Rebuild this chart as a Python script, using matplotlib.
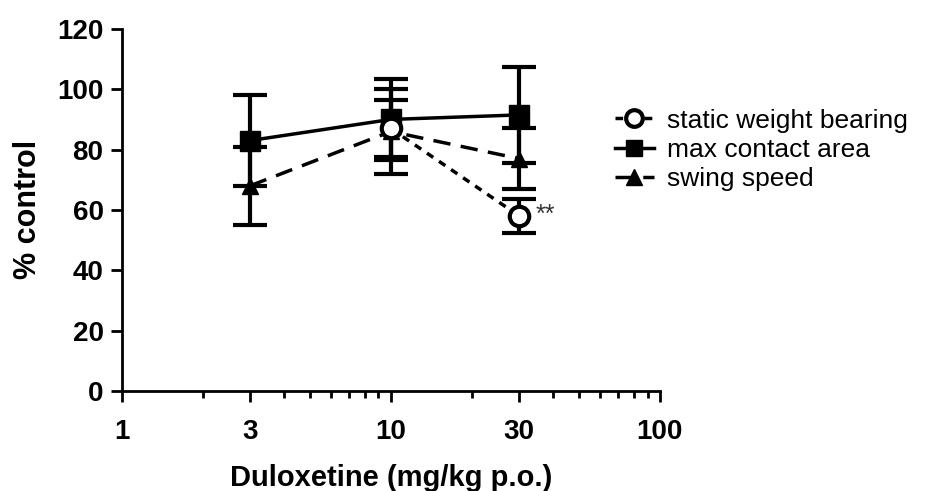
import numpy as np
import matplotlib.pyplot as plt
from matplotlib.lines import Line2D
from matplotlib.ticker import FixedLocator, NullFormatter

plt.rcParams['font.family'] = ['Liberation Sans', 'DejaVu Sans']

# Data
dose_swb = [10, 30]
swb = [87, 58]
swb_err = [9.3, 5.5]

dose = [3, 10, 30]
contact = [83, 90, 91.5]
contact_err = [15, 13.4, 16]
swing = [68, 86, 77]
swing_err = [13, 14, 10]

fig = plt.figure(figsize=(9.36, 4.91), dpi=100)
ax = fig.add_axes([0.130, 0.204, 0.575, 0.737])

solid = '-'
dashed = (0, (5, 3))
dotted = (0, (2.2, 2))

ax.errorbar(dose, contact, yerr=contact_err, color='black', lw=2.5, ls=solid,
            marker='s', ms=15, capsize=12, capthick=3, elinewidth=3)
ax.errorbar(dose, swing, yerr=swing_err, color='black', lw=2.5, ls=dashed,
            marker='^', ms=12, capsize=12, capthick=3, elinewidth=3)
ax.errorbar(dose_swb, swb, yerr=swb_err, color='black', lw=2.5, ls=dotted,
            marker='o', ms=14, mfc='white', mew=3, capsize=12, capthick=3,
            elinewidth=3)

ax.text(34.5, 58.5, '**', fontsize=18, va='center', ha='left', color='#333333')

ax.set_xscale('log')
ax.set_xlim(1, 100)
ax.set_ylim(0, 120)
ax.xaxis.set_major_locator(FixedLocator([1, 3, 10, 30, 100]))
ax.xaxis.set_minor_locator(FixedLocator([2, 4, 5, 6, 7, 8, 9, 20, 40, 50, 60, 70, 80, 90]))
ax.xaxis.set_minor_formatter(NullFormatter())
ax.set_xticklabels(['1', '3', '10', '30', '100'])
ax.set_yticks(range(0, 121, 20))

for s in ['top', 'right']:
    ax.spines[s].set_visible(False)
for s in ['left', 'bottom']:
    ax.spines[s].set_linewidth(2)
ax.tick_params(axis='both', which='major', width=2, length=8, labelsize=20)
ax.tick_params(axis='x', which='major', pad=12)
ax.tick_params(axis='y', which='major', pad=5)
ax.tick_params(axis='x', which='minor', width=2, length=5)
for lbl in ax.get_xticklabels() + ax.get_yticklabels():
    lbl.set_fontweight('bold')

ax.set_xlabel('Duloxetine (mg/kg p.o.)', fontsize=21, fontweight='bold', labelpad=14)
ax.set_ylabel('% control', fontsize=22, fontweight='bold', labelpad=10)

handles = [
    Line2D([], [], color='black', lw=2.5, ls=dotted, marker='o', ms=12,
           mfc='white', mew=3),
    Line2D([], [], color='black', lw=2.5, ls=solid, marker='s', ms=12),
    Line2D([], [], color='black', lw=2.5, ls=dashed, marker='^', ms=11),
]
labels = ['static weight bearing', 'max contact area', 'swing speed']
ax.legend(handles, labels, loc='upper left', bbox_to_anchor=(0.916, 0.78),
          frameon=False, fontsize=19, handlelength=1.5, handletextpad=0.5,
          labelspacing=0.2, borderpad=0, borderaxespad=0)

fig.savefig('out.png', dpi=100)
